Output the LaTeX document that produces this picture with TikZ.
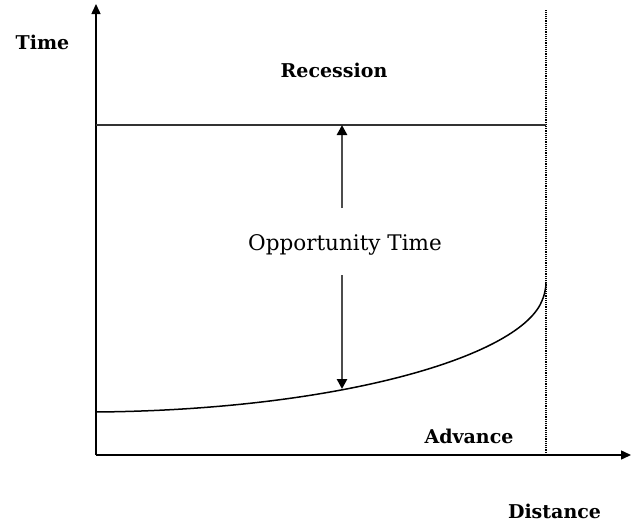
\documentclass[tikz,border=0pt]{standalone}
\usepackage{fontspec}
\setmainfont{DejaVu Serif}
\usetikzlibrary{arrows.meta}
\begin{document}
\begin{tikzpicture}[x=1pt,y=-1pt,
  axis/.style={line width=1.5pt,-{Triangle[length=10pt,width=9pt]}},
  gap/.style={draw=black!70,line width=2.6pt,-{Triangle[length=10pt,width=10pt,fill=black,color=black]}},
  lbl/.style={font=\bfseries\fontsize{19}{21}\selectfont,inner sep=0pt,anchor=base},
  txt/.style={font=\fontsize{21.5}{24}\selectfont,inner sep=0pt,anchor=base}]
\useasboundingbox (0,0) rectangle (635,523);
\coordinate (O) at (96,455);
\coordinate (ytop) at (96,4);
\coordinate (xend) at (631,455);
\coordinate (dtop) at (546,10);
\coordinate (dbot) at (546,455);
\coordinate (hl) at (96,125);
\coordinate (hr) at (546,125);
\coordinate (cs) at (96,412);
\coordinate (ce) at (546,282);
\coordinate (atop) at (342,125);
\coordinate (abot) at (342,389);
\coordinate (u1) at (342,208);
\coordinate (d1) at (342,275);
\draw[axis] (O) -- (ytop);
\draw[axis] (O) -- (xend);
\draw[densely dotted,line width=1.2pt] (dbot) -- (dtop);
\draw[black!80,line width=1.5pt] (hl) -- (hr);
\draw[line width=1.5pt] (cs) .. controls (330,410) and (510,360) .. (540,305) .. controls (544,297) and (546,290) .. (ce);
\node[txt] (opp) at (345,250) {Opportunity Time};
\draw[gap] (u1) -- (atop);
\draw[gap] (d1) -- (abot);
\node[lbl] (time) at (42.5,49) {Time};
\node[lbl] (rec) at (334,77) {Recession};
\node[lbl] (adv) at (469,443) {Advance};
\node[lbl] (dist) at (554.5,518) {Distance};
\end{tikzpicture}
\end{document}
